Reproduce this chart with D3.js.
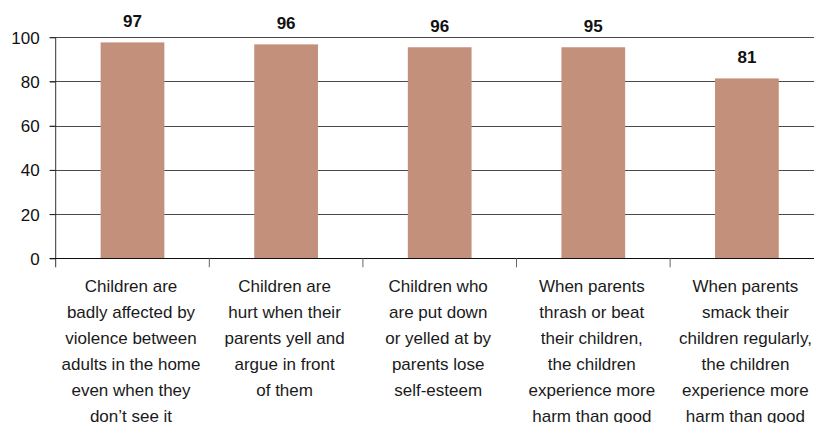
<!DOCTYPE html>
<html><head><meta charset="utf-8">
<script src="https://cdn.jsdelivr.net/npm/d3@7"></script>
<style>html,body{margin:0;padding:0;background:#fff;overflow:hidden}svg{display:block}</style>
</head><body><svg id="c" width="814" height="423"></svg>
<script>
const categories = [
  ["Children are","badly affected by","violence between","adults in the home","even when they","don\u2019t see it"],
  ["Children are","hurt when their","parents yell and","argue in front","of them"],
  ["Children who","are put down","or yelled at by","parents lose","self-esteem"],
  ["When parents","thrash or beat","their children,","the children","experience more","harm than good"],
  ["When parents","smack their","children regularly,","the children","experience more","harm than good"]
];
const values = [97.7, 96.8, 95.5, 95.5, 81.4];
const valueLabels = ["97", "96", "96", "95", "81"];
const yTicks = [0, 20, 40, 60, 80, 100];

const svg = d3.select("#c");
const font = "'Liberation Sans', Arial, Helvetica, sans-serif";
const x0 = 55.7, step = 153.6;
const x = d3.scaleBand().domain(d3.range(categories.length))
  .range([x0, x0 + step * categories.length]).paddingInner(0.585).paddingOuter(0.2925);
const y = d3.scaleLinear().domain([0, 100]).range([258.3, 37.3]);

// gridlines
svg.append("g").selectAll("line").data(yTicks.filter(d => d > 0)).join("line")
  .attr("x1", x0 - 6).attr("x2", 814)
  .attr("y1", d => Math.round(y(d)) + 0.5).attr("y2", d => Math.round(y(d)) + 0.5)
  .attr("stroke", "#4a4a4a").attr("stroke-width", 1);

// bars
svg.append("g").selectAll("rect").data(values).join("rect")
  .attr("x", (d, i) => x(i)).attr("width", x.bandwidth())
  .attr("y", d => y(d)).attr("height", d => y(0) - y(d))
  .attr("fill", "#c3917b");

// y axis
const yAxis = svg.append("g").attr("transform", `translate(${x0},0)`)
  .call(d3.axisLeft(y).tickValues(yTicks).tickSize(6).tickPadding(10).tickSizeOuter(0));
yAxis.select(".domain").remove();
yAxis.selectAll(".tick line").attr("stroke", "#222");
yAxis.selectAll("text").attr("font-family", font).attr("font-size", 17).attr("fill", "#111").attr("dy", "0.35em");
svg.append("line").attr("x1", x0).attr("x2", x0).attr("y1", y(100)).attr("y2", y(0) + 9)
  .attr("stroke", "#333").attr("stroke-width", 1);

// x baseline
svg.append("line").attr("x1", x0 - 6).attr("x2", 814)
  .attr("y1", Math.round(y(0)) + 0.5).attr("y2", Math.round(y(0)) + 0.5)
  .attr("stroke", "#111").attr("stroke-width", 1.2);

// category ticks
svg.append("g").selectAll("line").data(d3.range(1, categories.length)).join("line")
  .attr("x1", i => x0 + step * i).attr("x2", i => x0 + step * i)
  .attr("y1", y(0)).attr("y2", y(0) + 9).attr("stroke", "#666");

// value labels
svg.append("g").selectAll("text").data(values).join("text")
  .attr("x", (d, i) => x(i) + x.bandwidth() / 2).attr("y", d => y(d) - 15)
  .attr("text-anchor", "middle").attr("font-family", font).attr("font-size", 17)
  .attr("font-weight", "bold").attr("fill", "#111")
  .text((d, i) => valueLabels[i]);

// category labels
const cl = svg.append("g").selectAll("text").data(categories).join("text")
  .attr("text-anchor", "middle").attr("font-family", font).attr("font-size", 17).attr("fill", "#1a1a1a");
cl.each(function(lines, i) {
  const t = d3.select(this);
  lines.forEach((ln, k) => {
    t.append("tspan").attr("x", x(i) + x.bandwidth() / 2 - 1.5).attr("y", 292 + k * 26).text(ln);
  });
});
</script></body></html>
